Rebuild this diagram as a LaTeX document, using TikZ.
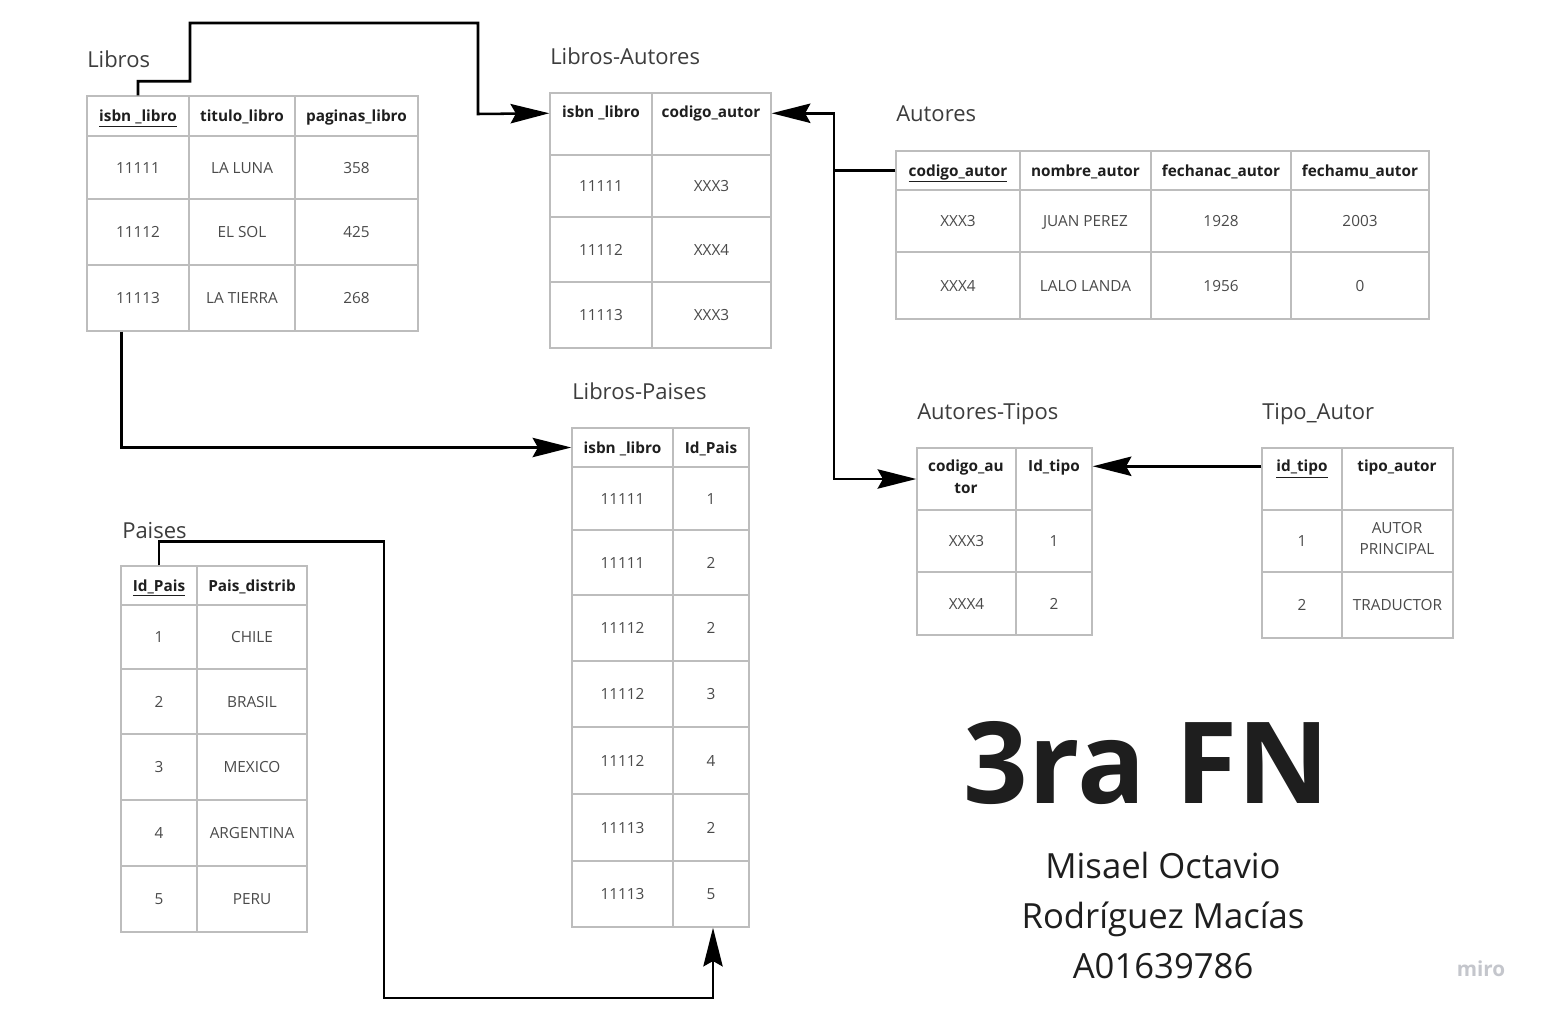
\documentclass[tikz,border=0pt]{standalone}
\usepackage{fontspec}
\setmainfont{Open Sans}
\usetikzlibrary{arrows.meta,calc}
\definecolor{gridc}{HTML}{BDBDBD}
\definecolor{datac}{HTML}{4A4A4A}
\definecolor{hdrc}{HTML}{1E1E1E}
\definecolor{titc}{HTML}{3C3C3C}
\definecolor{miroc}{HTML}{C4C6CC}
\newcommand\tc[7][]{\node[cellst,#1,minimum width={(#5-#3)*0.75pt},minimum height={(#6-#4)*0.75pt}] (#2) at ({(#3+#5)/2},{(#4+#6)/2}) {#7};}
\tikzset{
  cellst/.style={draw=gridc,line width=1.1pt,inner sep=0pt,rectangle,font=\fontsize{11.5}{14}\selectfont,text=datac,text height=8.3pt,text depth=0pt},
  hdr/.style={font=\fontsize{11.5}{14}\selectfont\bfseries,text=hdrc},
  hdrtxt/.style={inner sep=0pt,font=\fontsize{11.5}{14}\selectfont\bfseries,text=hdrc,text height=8.3pt,text depth=0pt},
  mltxt/.style={inner sep=0pt,align=center},
  tabtitle/.style={anchor=base west,inner sep=0pt,font=\fontsize{16.5}{19}\selectfont,text=titc},
  conn/.style={line width=1.9pt,draw=black},
  connarrow/.style={conn,-{Stealth[length=29pt,width=14.5pt,inset=4pt]}}
}
\begin{document}
\begin{tikzpicture}[x=0.75pt,y=-0.75pt]
\useasboundingbox (0,0) rectangle (1542,1013);
\fill[white] (0,0) rectangle (1542,1013);

% ---------- Libros
\node[tabtitle] (t-lib) at (87,68) {Libros};
\tc[hdr]{lib-h1}{87}{96}{189}{136}{\underline{isbn \_libro}}
\tc[hdr]{lib-h2}{189}{96}{295}{136}{titulo\_libro}
\tc[hdr]{lib-h3}{295}{96}{418}{136}{paginas\_libro}
\tc{lib-r1c1}{87}{136}{189}{199}{11111}
\tc{lib-r1c2}{189}{136}{295}{199}{LA LUNA}
\tc{lib-r1c3}{295}{136}{418}{199}{358}
\tc{lib-r2c1}{87}{199}{189}{265}{11112}
\tc{lib-r2c2}{189}{199}{295}{265}{EL SOL}
\tc{lib-r2c3}{295}{199}{418}{265}{425}
\tc{lib-r3c1}{87}{265}{189}{331}{11113}
\tc{lib-r3c2}{189}{265}{295}{331}{LA TIERRA}
\tc{lib-r3c3}{295}{265}{418}{331}{268}

% ---------- Libros-Autores
\node[tabtitle] (t-la) at (550,65) {Libros-Autores};
\tc{la-h1}{550}{93}{652}{155}{}
\tc{la-h2}{652}{93}{771}{155}{}
\node[hdrtxt] (la-h1t) at (601,112) {isbn \_libro};
\node[hdrtxt] (la-h2t) at (711,112) {codigo\_autor};
\tc{la-r1c1}{550}{155}{652}{217}{11111}
\tc{la-r1c2}{652}{155}{771}{217}{XXX3}
\tc{la-r2c1}{550}{217}{652}{282}{11112}
\tc{la-r2c2}{652}{217}{771}{282}{XXX4}
\tc{la-r3c1}{550}{282}{652}{348}{11113}
\tc{la-r3c2}{652}{282}{771}{348}{XXX3}

% ---------- Autores
\node[tabtitle] (t-au) at (896,122) {Autores};
\tc[hdr]{au-h1}{896}{151}{1020}{190}{\underline{codigo\_autor}}
\tc[hdr]{au-h2}{1020}{151}{1151}{190}{nombre\_autor}
\tc[hdr]{au-h3}{1151}{151}{1291}{190}{fechanac\_autor}
\tc[hdr]{au-h4}{1291}{151}{1429}{190}{fechamu\_autor}
\tc{au-r1c1}{896}{190}{1020}{252}{XXX3}
\tc{au-r1c2}{1020}{190}{1151}{252}{JUAN PEREZ}
\tc{au-r1c3}{1151}{190}{1291}{252}{1928}
\tc{au-r1c4}{1291}{190}{1429}{252}{2003}
\tc{au-r2c1}{896}{252}{1020}{319}{XXX4}
\tc{au-r2c2}{1020}{252}{1151}{319}{LALO LANDA}
\tc{au-r2c3}{1151}{252}{1291}{319}{1956}
\tc{au-r2c4}{1291}{252}{1429}{319}{0}

% ---------- Libros-Paises
\node[tabtitle] (t-lp) at (572,399) {Libros-Paises};
\tc[hdr]{lp-h1}{572}{428}{673}{467}{isbn \_libro}
\tc[hdr]{lp-h2}{673}{428}{749}{467}{Id\_Pais}
\tc{lp-r1c1}{572}{467}{673}{530}{11111}
\tc{lp-r1c2}{673}{467}{749}{530}{1}
\tc{lp-r2c1}{572}{530}{673}{595}{11111}
\tc{lp-r2c2}{673}{530}{749}{595}{2}
\tc{lp-r3c1}{572}{595}{673}{661}{11112}
\tc{lp-r3c2}{673}{595}{749}{661}{2}
\tc{lp-r4c1}{572}{661}{673}{727}{11112}
\tc{lp-r4c2}{673}{661}{749}{727}{3}
\tc{lp-r5c1}{572}{727}{673}{794}{11112}
\tc{lp-r5c2}{673}{727}{749}{794}{4}
\tc{lp-r6c1}{572}{794}{673}{861}{11113}
\tc{lp-r6c2}{673}{794}{749}{861}{2}
\tc{lp-r7c1}{572}{861}{673}{927}{11113}
\tc{lp-r7c2}{673}{861}{749}{927}{5}

% ---------- Autores-Tipos
\node[tabtitle] (t-at) at (917,419) {Autores-Tipos};
\tc{at-h1}{917}{448}{1016}{510}{}
\tc{at-h2}{1016}{448}{1092}{510}{}
\node[mltxt,font=\fontsize{11.5}{16.5}\selectfont\bfseries,text=hdrc] (at-h1t) at (966,477) {codigo\_au\\tor};
\node[hdrtxt] (at-h2t) at (1054,466) {Id\_tipo};
\tc{at-r1c1}{917}{510}{1016}{572}{XXX3}
\tc{at-r1c2}{1016}{510}{1092}{572}{1}
\tc{at-r2c1}{917}{572}{1016}{635}{XXX4}
\tc{at-r2c2}{1016}{572}{1092}{635}{2}

% ---------- Tipo_Autor
\node[tabtitle] (t-ta) at (1262,419) {Tipo\_Autor};
\tc{ta-h1}{1262}{448}{1342}{510}{}
\tc{ta-h2}{1342}{448}{1453}{510}{}
\node[hdrtxt] (ta-h1t) at (1302,466) {\underline{id\_tipo}};
\node[hdrtxt] (ta-h2t) at (1397,466) {tipo\_autor};
\tc{ta-r1c1}{1262}{510}{1342}{572}{1}
\tc{ta-r1c2}{1342}{510}{1453}{572}{}
\node[mltxt,font=\fontsize{11.5}{15.75}\selectfont,text=datac] (ta-r1c2t) at (1397,539) {AUTOR\\PRINCIPAL};
\tc{ta-r2c1}{1262}{572}{1342}{638}{2}
\tc{ta-r2c2}{1342}{572}{1453}{638}{TRADUCTOR}

% ---------- Paises
\node[tabtitle] (t-pa) at (122,538) {Paises};
\tc[hdr]{pa-h1}{121}{566}{197}{605}{\underline{Id\_Pais}}
\tc[hdr]{pa-h2}{197}{566}{307}{605}{Pais\_distrib}
\tc{pa-r1c1}{121}{605}{197}{669}{1}
\tc{pa-r1c2}{197}{605}{307}{669}{CHILE}
\tc{pa-r2c1}{121}{669}{197}{734}{2}
\tc{pa-r2c2}{197}{669}{307}{734}{BRASIL}
\tc{pa-r3c1}{121}{734}{197}{800}{3}
\tc{pa-r3c2}{197}{734}{307}{800}{MEXICO}
\tc{pa-r4c1}{121}{800}{197}{866}{4}
\tc{pa-r4c2}{197}{800}{307}{866}{ARGENTINA}
\tc{pa-r5c1}{121}{866}{197}{932}{5}
\tc{pa-r5c2}{197}{866}{307}{932}{PERU}

% ---------- connectors
\draw[connarrow] (lib-h1.north) -- ++(0,-14) -| (190,23) -| (478,114) -- ($(la-h1.north west)+(0,21)$);
\coordinate (jn) at (834,170.5);
\draw[connarrow] (au-h1.west) -- (jn) |- ($(la-h2.north east)+(0,21)$);
\draw[connarrow] (jn) |- (at-h1.west);
\draw[connarrow] ($(lib-r3c1.south west)+(35,0)$) |- (lp-h1.west);
\draw[connarrow] ($(ta-h1.north west)+(0,19)$) -- ($(at-h2.north east)+(0,19)$);
\draw[connarrow] (pa-h1.north) -- ++(0,-24) -| (384,998) -| ($(lp-r7c2.south)+(2,0)$);

% ---------- texts
\node[anchor=base,inner sep=0pt,font=\fontsize{85}{90}\selectfont\bfseries,text=hdrc] (fn) at (1147,803) {3ra FN};
\node[anchor=base,inner sep=0pt,font=\fontsize{26}{37}\selectfont,text=hdrc] (name1) at (1163,878) {Misael Octavio};
\node[anchor=base,inner sep=0pt,font=\fontsize{26}{37}\selectfont,text=hdrc] (name2) at (1163,928) {Rodríguez Macías};
\node[anchor=base,inner sep=0pt,font=\fontsize{26}{37}\selectfont,text=hdrc] (name3) at (1163,978) {A01639786};
\node[anchor=base,inner sep=0pt,font=\fontsize{15.5}{18}\selectfont\bfseries,text=miroc] (miro) at (1481,976) {miro};
\end{tikzpicture}
\end{document}
